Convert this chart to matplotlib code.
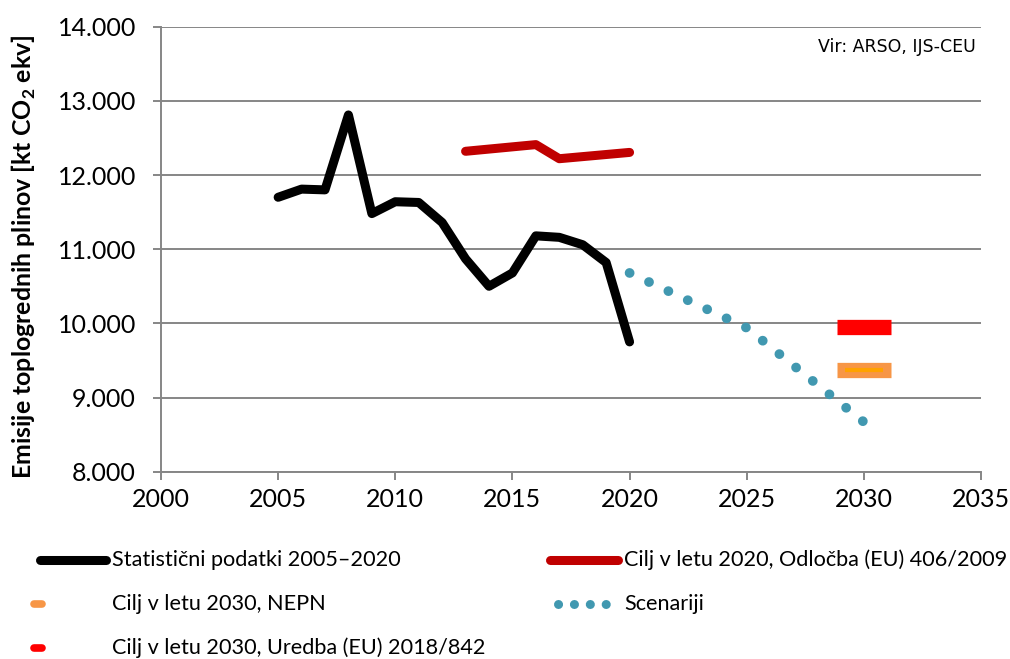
import matplotlib
matplotlib.use("Agg")
import numpy as np
import matplotlib.pyplot as plt
from matplotlib.lines import Line2D
from matplotlib.ticker import FuncFormatter, MultipleLocator

plt.rcParams['font.family'] = ['Lato', 'DejaVu Sans']
plt.rcParams['mathtext.fontset'] = 'custom'
plt.rcParams['mathtext.rm'] = 'Lato'
plt.rcParams['mathtext.bf'] = 'Lato:bold'

# data (kt CO2 ekv)
stat_years = list(range(2005, 2021))
stat_values = [11700, 11810, 11800, 12810, 11480, 11640, 11630, 11360,
               10870, 10500, 10680, 11180, 11160, 11060, 10820, 9750]

target2020_years = [2013, 2016, 2017, 2020]
target2020_values = [12320, 12410, 12220, 12305]

scen_years = [2020, 2025, 2030]
scen_values = [10680, 9940, 8670]

nepn_year = 2030
nepn_value = 9370
uredba_year = 2030
uredba_value = 9950

labels = ['Statistični podatki 2005–2020',
          'Cilj v letu 2020, Odločba (EU) 406/2009',
          'Cilj v letu 2030, NEPN',
          'Scenariji',
          'Cilj v letu 2030, Uredba (EU) 2018/842']

BLACK = '#000000'
DARKRED = '#C00000'
TEAL = '#4198B0'
ORANGE = '#F79646'
ORANGE_IN = '#FFA200'
RED = '#FF0000'
GRID = '#868686'

DPI = 100
fig = plt.figure(figsize=(10.10, 6.59), dpi=DPI)
ax = fig.add_axes([0.1594, 0.2842, 0.9713 - 0.1594, 0.9595 - 0.2842])
ax.set_xlim(2000, 2035)
ax.set_ylim(8000, 14000)

ax.plot(stat_years, stat_values, color=BLACK, lw=6.5, solid_capstyle='round',
        solid_joinstyle='round', zorder=4)
ax.plot(target2020_years, target2020_values, color=DARKRED, lw=6.5,
        solid_capstyle='round', zorder=4)

# round-dot line, spacing fitted so a dot sits on both ends
dot_lw = 7
lw_px = dot_lw * DPI / 72
pts = ax.transData.transform(np.column_stack([scen_years, scen_values]))
length = np.sum(np.hypot(*np.diff(pts, axis=0).T))
n_gaps = max(1, round(length / 21.7))
gap = length / n_gaps / lw_px * 0.995 - 0.01
ax.plot(scen_years, scen_values, color=TEAL, lw=dot_lw,
        linestyle=(0, (0.01, gap)), dash_capstyle='round', zorder=3)

half = 1.15
ax.plot([uredba_year - half, uredba_year + half], [uredba_value] * 2,
        color=RED, lw=11, solid_capstyle='butt', zorder=5)
ax.plot([nepn_year - half, nepn_year + half], [nepn_value] * 2,
        color=ORANGE, lw=11, solid_capstyle='butt', zorder=5)
ax.plot([nepn_year - half + 0.35, nepn_year + half - 0.35], [nepn_value] * 2,
        color=ORANGE_IN, lw=3, solid_capstyle='butt', zorder=6)

ax.xaxis.set_major_locator(MultipleLocator(5))
ax.yaxis.set_major_locator(MultipleLocator(1000))
ax.yaxis.set_major_formatter(FuncFormatter(lambda v, p: f"{int(v):,}".replace(',', '.')))
ax.grid(axis='y', color=GRID, lw=1.4, zorder=0)
ax.set_axisbelow(True)
for s in ['top', 'right']:
    ax.spines[s].set_visible(False)
for s in ['left', 'bottom']:
    ax.spines[s].set_color(GRID)
    ax.spines[s].set_linewidth(1.4)
ax.tick_params(axis='both', colors=GRID, length=6, width=1.4, labelcolor='black',
               labelsize=18)
ax.tick_params(axis='x', pad=6)
ax.tick_params(axis='y', pad=12)

ax.set_ylabel(r'Emisije toplogrednih plinov [kt CO$_{\mathbf{2}}$ ekv]',
              fontsize=17.9, fontweight='bold')
ax.yaxis.set_label_coords(-0.150, 0.4825)

ax.text(0.993, 0.954, 'Vir: ARSO, IJS-CEU', transform=ax.transAxes,
        ha='right', va='center', fontsize=12.5, family='DejaVu Sans')

# legend drawn by hand in figure pixels
W, H = 1010, 659
def fx(px):
    return px / W
def fy(py):
    return 1 - py / H

rows = [560, 604, 648]
fig.add_artist(Line2D([fx(40), fx(106)], [fy(rows[0])] * 2, color=BLACK, lw=6.5,
                      solid_capstyle='round'))
fig.add_artist(Line2D([fx(550), fx(618)], [fy(rows[0])] * 2, color=DARKRED, lw=6.5,
                      solid_capstyle='round'))
fig.add_artist(Line2D([fx(34), fx(42)], [fy(rows[1])] * 2, color=ORANGE, lw=5.5,
                      solid_capstyle='round'))
fig.add_artist(Line2D([fx(558), fx(607)], [fy(rows[1])] * 2, color=TEAL, lw=6.5,
                      linestyle=(0, (0.01, 1.75)), dash_capstyle='round'))
fig.add_artist(Line2D([fx(34), fx(42)], [fy(rows[2])] * 2, color=RED, lw=5.5,
                      solid_capstyle='round'))

pos = [(112, rows[0]), (624, rows[0]), (112, rows[1]), (624, rows[1]), (112, rows[2])]
for (px, py), lab in zip(pos, labels):
    fig.text(fx(px), fy(py), lab, ha='left', va='center', fontsize=15.6)

fig.savefig('out.png', dpi=DPI)
